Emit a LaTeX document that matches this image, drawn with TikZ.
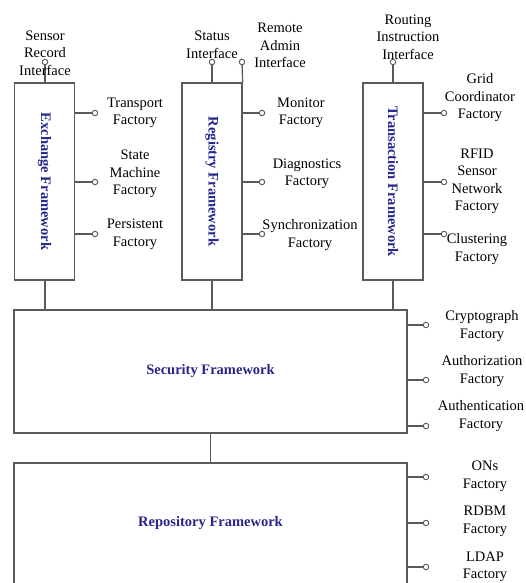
\documentclass[tikz,border=0pt]{standalone}
\usepackage{fontspec}
\setmainfont{Liberation Serif}
\definecolor{fwblue}{RGB}{38,38,140}
\definecolor{lgray}{RGB}{90,90,90}
\begin{document}
\begin{tikzpicture}[x=1pt,y=-1pt,
  every node/.style={font=\fontsize{14.5}{17.5}\selectfont},
  fwbox/.style={draw=lgray,line width=1.3pt,fill=white,inner sep=0pt},
  vbox/.style={fwbox,minimum width=60pt,minimum height=197pt},
  hbox/.style={fwbox,minimum width=393pt},
  fwtext/.style={text=fwblue,font=\fontsize{14.5}{17.5}\selectfont\bfseries},
  port/.style={circle,draw=lgray,line width=0.9pt,fill=white,inner sep=0pt,minimum size=5.5pt},
  wire/.style={draw=lgray,line width=1.3pt},
  lbl/.style={align=center,inner sep=0pt}
]
\useasboundingbox (0,0) rectangle (526,583);

% boxes
\node[vbox] (ex) at (44.5,181.5) {};
\node[fwtext,rotate=-90] (extxt) at (ex.center) {Exchange Framework};
\node[vbox] (reg) at (212,181.5) {};
\node[fwtext,rotate=-90] (regtxt) at (reg.center) {Registry Framework};
\node[vbox] (tr) at (393,181.5) {};
\node[fwtext,rotate=-90] (trtxt) at (tr.center) {Transaction Framework};
\node[hbox,minimum height=123pt] (sec) at (210.5,371.5) {};
\node[fwtext] (sectxt) at (sec.center) {Security Framework};
\node[hbox,minimum height=130pt] (rep) at (210.5,528) {};
\node[fwtext] (reptxt) at (210.5,523) {Repository Framework};

% vertical connectors between boxes
\draw[wire] (ex.south -| 45,0) -- (sec.north -| 45,0);
\draw[wire] (reg.south) -- (reg.south |- sec.north);
\draw[wire] (tr.south) -- (tr.south |- sec.north);
\draw[wire] (sec.south) -- (rep.north);

% top ports
\node[port] (p-sri) at (45,62) {};
\draw[wire] (ex.north -| p-sri) -- (p-sri);
\node[port] (p-si) at (212,62) {};
\draw[wire] (reg.north) -- (p-si);
\node[port] (p-rai) at (242,62) {};
\draw[wire] (reg.north east) -- (p-rai);
\node[port] (p-rii) at (393,62) {};
\draw[wire] (tr.north) -- (p-rii);

% side ports of vertical boxes
\foreach \y/\n in {113/a,182/b,234/c}{
  \node[port] (pe\n) at (95,\y) {};
  \draw[wire] (ex.east |- pe\n) -- (pe\n);
  \node[port] (pr\n) at (262,\y) {};
  \draw[wire] (reg.east |- pr\n) -- (pr\n);
  \node[port] (pt\n) at (444,\y) {};
  \draw[wire] (tr.east |- pt\n) -- (pt\n);
}
\foreach \y/\n in {325/a,380/b,426/c}{
  \node[port] (ps\n) at (426,\y) {};
  \draw[wire] (sec.east |- ps\n) -- (ps\n);
}
\foreach \y/\n in {477/a,523/b,567/c}{
  \node[port] (pp\n) at (426,\y) {};
  \draw[wire] (rep.east |- pp\n) -- (pp\n);
}

% labels
\node[lbl] (l-sri) at (45,53) {Sensor\\Record\\Interface};
\node[lbl] (l-tf) at (135,113) {Transport\\Factory};
\node[lbl] (l-smf) at (135,174) {State\\Machine\\Factory};
\node[lbl] (l-pf) at (135,234.5) {Persistent\\Factory};
\node[lbl] (l-si) at (212,45) {Status\\Interface};
\node[lbl] (l-rai) at (280,45.5) {Remote\\Admin\\Interface};
\node[lbl] (l-mf) at (301,113) {Monitor\\Factory};
\node[lbl] (l-df) at (307,174) {Diagnostics\\Factory};
\node[lbl] (l-syf) at (310,235) {Synchronization\\Factory};
\node[lbl] (l-rii) at (408,37) {Routing\\Instruction\\Interface};
\node[lbl] (l-gcf) at (480,98) {Grid\\Coordinator\\Factory};
\node[lbl] (l-rfid) at (477,181.5) {RFID\\Sensor\\Network\\Factory};
\node[lbl] (l-cf) at (477,249) {Clustering\\Factory};
\node[lbl] (l-cgf) at (482,326) {Cryptograph\\Factory};
\node[lbl] (l-azf) at (482,371) {Authorization\\Factory};
\node[lbl] (l-anf) at (481,416) {Authentication\\Factory};
\node[lbl] (l-ons) at (485,476.5) {ONs\\Factory};
\node[lbl] (l-rdbm) at (485,521.5) {RDBM\\Factory};
\node[lbl] (l-ldap) at (485,567) {LDAP\\Factory};
\end{tikzpicture}
\end{document}
